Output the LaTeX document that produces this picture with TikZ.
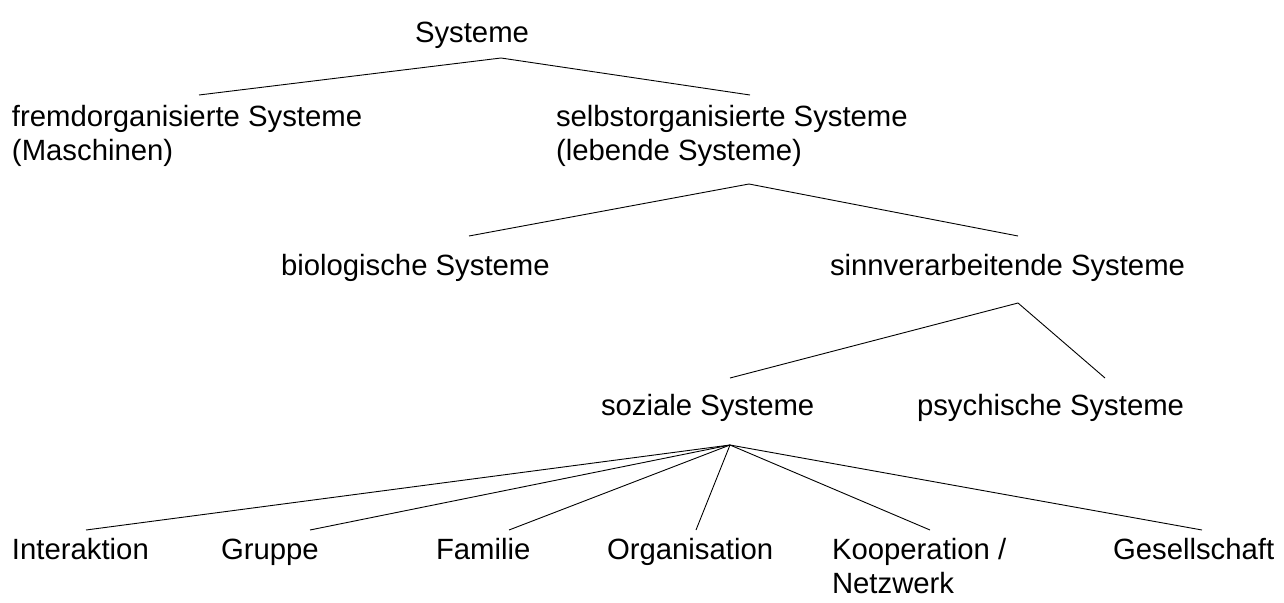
\documentclass[tikz,border=0pt]{standalone}
\usepackage{fontspec}
\setmainfont{Liberation Sans}
\begin{document}
\begin{tikzpicture}[x=1pt,y=-1pt,
  lbl/.style={anchor=base west, inner sep=0pt, outer sep=0pt, align=left,
    font=\fontsize{29.3}{33.7}\selectfont},
  edge/.style={line width=0.9pt, black}]
\useasboundingbox (0,0) rectangle (1284,602);
% labels (multi-line labels are anchored at the baseline of their last line)
\node[lbl] (sys) at (415,42) {Systeme};
\node[lbl] (fremd) at (12,160) {fremdorganisierte Systeme\\(Maschinen)};
\node[lbl] (selbst) at (556,160) {selbstorganisierte Systeme\\(lebende Systeme)};
\node[lbl] (bio) at (281,275) {biologische Systeme};
\node[lbl] (sinn) at (830,275) {sinnverarbeitende Systeme};
\node[lbl] (soz) at (601,415) {soziale Systeme};
\node[lbl] (psy) at (917,415) {psychische Systeme};
\node[lbl] (inter) at (12,559) {Interaktion};
\node[lbl] (grup) at (221,559) {Gruppe};
\node[lbl] (fam) at (436,559) {Familie};
\node[lbl] (org) at (607,559) {Organisation};
\node[lbl] (koop) at (832,593) {Kooperation /\\Netzwerk};
\node[lbl] (ges) at (1113,559) {Gesellschaft};
% connector points
\coordinate (sysA) at (501,58);
\coordinate (fremdT) at (199,95);
\coordinate (selbstT) at (750,95);
\coordinate (selbstA) at (749,184);
\coordinate (bioT) at (469,236);
\coordinate (sinnT) at (1018,236);
\coordinate (sinnA) at (1018,303);
\coordinate (sozT) at (730,378);
\coordinate (psyT) at (1105,378);
\coordinate (sozA) at (730,445);
\coordinate (interT) at (86,530);
\coordinate (grupT) at (310,530);
\coordinate (famT) at (509,530);
\coordinate (orgT) at (696,530);
\coordinate (koopT) at (930,530);
\coordinate (gesT) at (1202,530);
% connectors
\draw[edge] (fremdT) -- (sysA) -- (selbstT);
\draw[edge] (bioT) -- (selbstA) -- (sinnT);
\draw[edge] (sozT) -- (sinnA) -- (psyT);
\foreach \t in {interT,grupT,famT,orgT,koopT,gesT}
  \draw[edge] (sozA) -- (\t);
\end{tikzpicture}
\end{document}
